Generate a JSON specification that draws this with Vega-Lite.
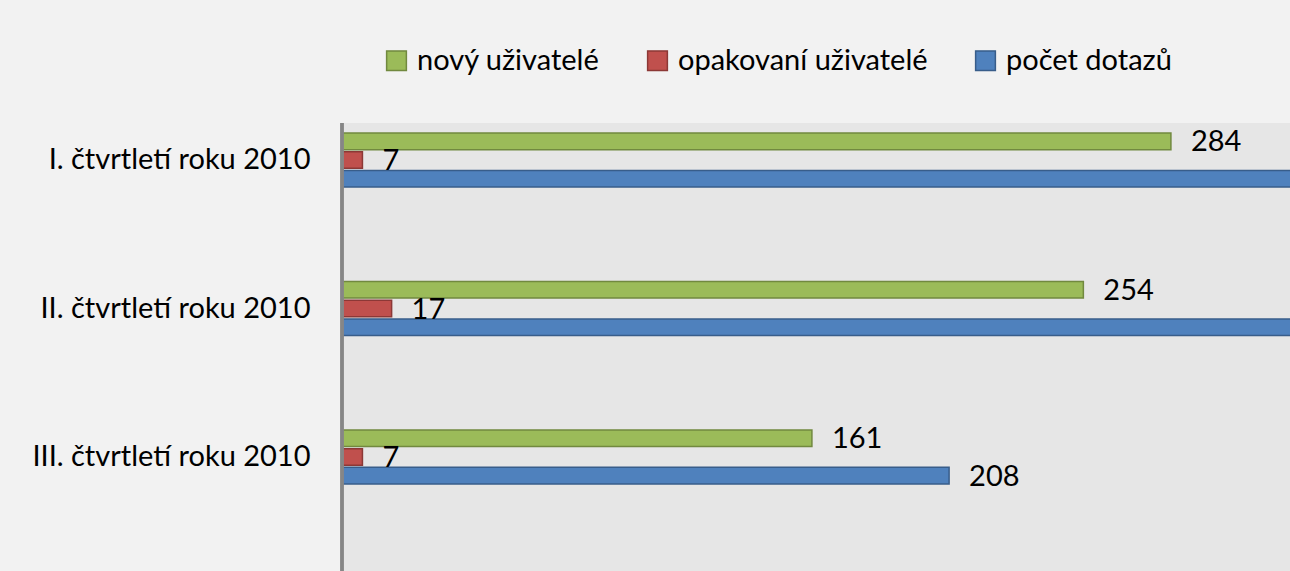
{
  "$schema": "https://vega.github.io/schema/vega-lite/v6.json",
  "autosize": {"type": "none"},
  "padding": {"left": 342, "top": 123, "right": 0, "bottom": 0},
  "width": 948,
  "height": 448,
  "background": "#f2f2f2",
  "config": {
    "view": {"fill": "#e6e6e6", "stroke": null},
    "font": "Lato",
    "text": {"font": "Lato"}
  },
  "data": {
    "values": [
      {"kvartal": "I. čtvrtletí roku 2010", "serie": "nový uživatelé", "hodnota": 284},
      {"kvartal": "I. čtvrtletí roku 2010", "serie": "opakovaní uživatelé", "hodnota": 7},
      {"kvartal": "I. čtvrtletí roku 2010", "serie": "počet dotazů", "hodnota": 345},
      {"kvartal": "II. čtvrtletí roku 2010", "serie": "nový uživatelé", "hodnota": 254},
      {"kvartal": "II. čtvrtletí roku 2010", "serie": "opakovaní uživatelé", "hodnota": 17},
      {"kvartal": "II. čtvrtletí roku 2010", "serie": "počet dotazů", "hodnota": 340},
      {"kvartal": "III. čtvrtletí roku 2010", "serie": "nový uživatelé", "hodnota": 161},
      {"kvartal": "III. čtvrtletí roku 2010", "serie": "opakovaní uživatelé", "hodnota": 7},
      {"kvartal": "III. čtvrtletí roku 2010", "serie": "počet dotazů", "hodnota": 208}
    ]
  },
  "layer": [
    {
      "mark": {"type": "bar", "clip": true, "strokeWidth": 1.5},
      "encoding": {
        "y": {
          "field": "kvartal", "type": "nominal",
          "sort": ["I. čtvrtletí roku 2010", "II. čtvrtletí roku 2010", "III. čtvrtletí roku 2010"],
          "scale": {"range": [10, 361], "paddingInner": 0.636, "paddingOuter": 0},
          "axis": {"title": null, "domain": false, "ticks": false, "labelPadding": 32, "labelFontSize": 29, "labelColor": "#000000", "labelFont": "Lato", "labelLimit": 400}
        },
        "yOffset": {
          "field": "serie", "type": "nominal",
          "sort": ["nový uživatelé", "opakovaní uživatelé", "počet dotazů"],
          "scale": {"paddingInner": 0.11, "paddingOuter": 0}
        },
        "x": {"field": "hodnota", "type": "quantitative", "scale": {"domain": [0, 324.8], "nice": false, "zero": true}, "axis": null},
        "fill": {
          "field": "serie", "type": "nominal",
          "sort": ["nový uživatelé", "opakovaní uživatelé", "počet dotazů"],
          "scale": {"domain": ["nový uživatelé", "opakovaní uživatelé", "počet dotazů"], "range": ["#9bbb59", "#c0504d", "#4f81bd"]},
          "legend": {
            "title": null, "orient": "none", "direction": "horizontal", "columns": 3,
            "legendX": 40, "legendY": -77,
            "symbolType": "square", "symbolSize": 390, "symbolStrokeWidth": 1.5, "symbolOpacity": 1,
            "labelFontSize": 29, "labelFont": "Lato", "labelColor": "#000000", "labelOffset": 6,
            "columnPadding": 43, "labelLimit": 400
          }
        },
        "stroke": {
          "field": "serie", "type": "nominal",
          "sort": ["nový uživatelé", "opakovaní uživatelé", "počet dotazů"],
          "scale": {"domain": ["nový uživatelé", "opakovaní uživatelé", "počet dotazů"], "range": ["#71893f", "#8c3836", "#385d8a"]},
          "legend": {
            "title": null, "orient": "none", "direction": "horizontal", "columns": 3,
            "legendX": 40, "legendY": -77,
            "symbolType": "square", "symbolSize": 390, "symbolStrokeWidth": 1.5, "symbolOpacity": 1,
            "labelFontSize": 29, "labelFont": "Lato", "labelColor": "#000000", "labelOffset": 6,
            "columnPadding": 43, "labelLimit": 400
          }
        }
      }
    },
    {
      "transform": [{"filter": "datum.hodnota <= 324.8"}],
      "mark": {"type": "text", "align": "left", "baseline": "middle", "dx": 20, "dy": 1, "fontSize": 29, "color": "#000000", "clip": true},
      "encoding": {
        "y": {
          "field": "kvartal", "type": "nominal",
          "sort": ["I. čtvrtletí roku 2010", "II. čtvrtletí roku 2010", "III. čtvrtletí roku 2010"]
        },
        "yOffset": {
          "field": "serie", "type": "nominal",
          "sort": ["nový uživatelé", "opakovaní uživatelé", "počet dotazů"]
        },
        "x": {"field": "hodnota", "type": "quantitative"},
        "text": {"field": "hodnota", "type": "quantitative"}
      }
    },
    {
      "mark": {"type": "rule", "color": "#868686", "strokeWidth": 2.5},
      "encoding": {"x": {"datum": 0}}
    }
  ]
}
